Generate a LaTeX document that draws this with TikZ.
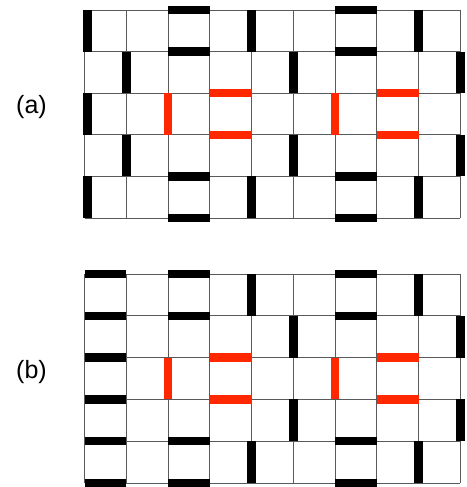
\documentclass[tikz,border=0pt]{standalone}
\usepackage{fontspec}
\setmainfont{Liberation Sans}
\definecolor{redbar}{RGB}{255,40,0}
\definecolor{gridcol}{RGB}{90,90,90}
\begin{document}
\begin{tikzpicture}[x=1pt,y=-1pt,
  gridline/.style={draw=gridcol, line width=0.9pt},
  bk/.style={draw=black, line width=8.5pt, line cap=butt},
  rd/.style={draw=redbar, line width=8.5pt, line cap=butt},
  lbl/.style={inner sep=0pt, font=\fontsize{25}{30}\selectfont}]
\useasboundingbox (0,0) rectangle (466,487);

\node[lbl] (la) at (31.5,107.5) {(a)};
\node[lbl] (lb) at (31.5,372) {(b)};

% ---------- grid (a) ----------
\begin{scope}[shift={(84.5,10)}, x=41.75pt, y=-41.6pt]
  \foreach \i in {0,...,9} \draw[gridline] (\i,0) -- (\i,5);
  \foreach \j in {0,...,5} \draw[gridline] (0,\j) -- (9,\j);
  % rows 0 and 4
  \foreach \r in {0,4}{
    \draw[bk] ([xshift=3pt]0,\r) -- ([xshift=3pt]0,\r+1);
    \draw[bk] (4,\r) -- (4,\r+1);
    \draw[bk] (8,\r) -- (8,\r+1);
    \foreach \c in {2,6}{
      \draw[bk] (\c,\r) -- (\c+1,\r);
      \draw[bk] (\c,\r+1) -- (\c+1,\r+1);
    }
  }
  % rows 1 and 3
  \foreach \r in {1,3}{
    \foreach \i in {1,5,9} \draw[bk] (\i,\r) -- (\i,\r+1);
  }
  % row 2
  \draw[bk] ([xshift=3pt]0,2) -- ([xshift=3pt]0,3);
  \foreach \i in {2,6} \draw[rd] (\i,2) -- (\i,3);
  \foreach \c in {3,7}{
    \draw[rd] (\c,2) -- (\c+1,2);
    \draw[rd] (\c,3) -- (\c+1,3);
  }
\end{scope}

% ---------- grid (b) ----------
\begin{scope}[shift={(84.5,274)}, x=41.75pt, y=-41.8pt]
  \foreach \i in {0,...,9} \draw[gridline] (\i,0) -- (\i,5);
  \foreach \j in {0,...,5} \draw[gridline] (0,\j) -- (9,\j);
  % rows 0 and 4
  \foreach \r in {0,4}{
    \draw[bk] (4,\r) -- (4,\r+1);
    \draw[bk] (8,\r) -- (8,\r+1);
    \foreach \c in {0,2,6}{
      \draw[bk] (\c,\r) -- (\c+1,\r);
      \draw[bk] (\c,\r+1) -- (\c+1,\r+1);
    }
  }
  % rows 1 and 3
  \foreach \r in {1,3}{
    \foreach \i in {5,9} \draw[bk] (\i,\r) -- (\i,\r+1);
  }
  % row 2
  \draw[bk] (0,2) -- (1,2);
  \draw[bk] (0,3) -- (1,3);
  \foreach \i in {2,6} \draw[rd] (\i,2) -- (\i,3);
  \foreach \c in {3,7}{
    \draw[rd] (\c,2) -- (\c+1,2);
    \draw[rd] (\c,3) -- (\c+1,3);
  }
\end{scope}
\end{tikzpicture}
\end{document}
